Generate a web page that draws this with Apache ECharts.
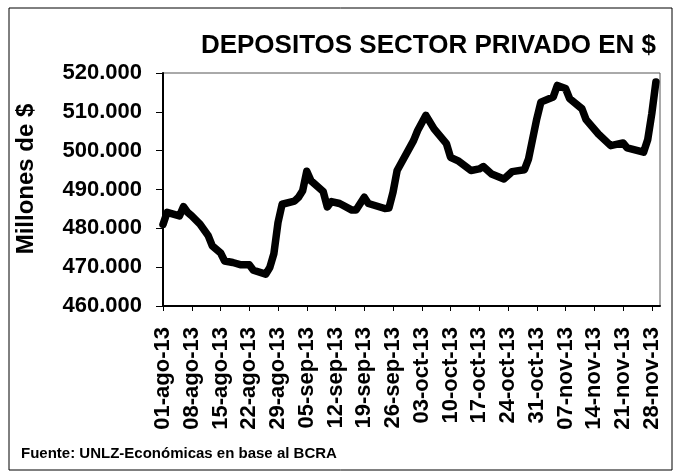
<!DOCTYPE html>
<html>
<head>
<meta charset="utf-8">
<script src="https://cdn.jsdelivr.net/npm/echarts@6/dist/echarts.min.js"></script>
<style>
  html, body { margin: 0; padding: 0; background: #fff; }
  #chart { width: 673px; height: 476px; }
</style>
</head>
<body>
<div id="chart"></div>
<script>
// daily categories 01-ago-13 .. 30-nov-13
const months = [["ago", 31], ["sep", 30], ["oct", 31], ["nov", 30]];
const days = [];
months.forEach(([m, n]) => {
    for (let d = 1; d <= n; d++) {
        days.push((d < 10 ? "0" : "") + d + "-" + m + "-13");
    }
});

// points (millones de $)
const pointDates = [
    "01-ago-13", "02-ago-13", "05-ago-13", "06-ago-13", "07-ago-13", "08-ago-13",
    "10-ago-13", "12-ago-13", "13-ago-13", "15-ago-13", "16-ago-13", "18-ago-13",
    "20-ago-13", "22-ago-13", "23-ago-13", "26-ago-13", "27-ago-13", "28-ago-13",
    "29-ago-13", "30-ago-13", "02-sep-13", "03-sep-13", "04-sep-13", "05-sep-13",
    "06-sep-13", "09-sep-13", "10-sep-13", "11-sep-13", "13-sep-13", "16-sep-13",
    "17-sep-13", "19-sep-13", "20-sep-13", "24-sep-13", "25-sep-13", "26-sep-13",
    "27-sep-13", "01-oct-13", "02-oct-13", "04-oct-13", "06-oct-13", "09-oct-13",
    "10-oct-13", "12-oct-13", "15-oct-13", "17-oct-13", "18-oct-13", "20-oct-13",
    "23-oct-13", "25-oct-13", "28-oct-13", "29-oct-13", "31-oct-13", "01-nov-13",
    "04-nov-13", "05-nov-13", "07-nov-13", "08-nov-13", "11-nov-13", "12-nov-13",
    "15-nov-13", "18-nov-13", "21-nov-13", "22-nov-13", "26-nov-13", "27-nov-13",
    "28-nov-13", "29-nov-13"
];
const pointValues = [
    481000, 484100, 483200, 485600, 484100, 483200,
    481100, 478100, 475500, 473700, 471600, 471200,
    470600, 470600, 469200, 468200, 469900, 473500,
    481500, 486200, 487000, 488000, 489700, 494700,
    492300, 489500, 485500, 486900, 486400, 484700,
    484700, 488000, 486400, 485100, 485200, 489300,
    494900, 502600, 505200, 509100, 505600, 501800,
    498300, 497300, 494900, 495300, 495900, 494000,
    492700, 494600, 495100, 497900, 508200, 512500,
    513800, 516800, 516000, 513400, 510800, 508000,
    504300, 501300, 502000, 500700, 499600, 502800,
    509500, 517700
];

const seriesData = days.map(d => {
    const i = pointDates.indexOf(d);
    return i >= 0 ? pointValues[i] : null;
});

const font = "Liberation Sans";
const chart = echarts.init(document.getElementById("chart"));
chart.setOption({
    animation: false,
    title: {
        text: "DEPOSITOS SECTOR PRIVADO EN $",
        right: 12,
        top: 28,
        textStyle: { fontFamily: font, fontWeight: "bold", fontSize: 26, color: "#000" }
    },
    grid: {
        left: 163, right: 13, top: 73, bottom: 170,
        show: true, borderColor: "#555", borderWidth: 1
    },
    xAxis: {
        type: "category",
        data: days,
        boundaryGap: false,
        axisLine: { lineStyle: { color: "#000", width: 2 } },
        axisTick: { interval: 6, length: 5, lineStyle: { color: "#000", width: 1 } },
        axisLabel: {
            interval: 6, rotate: 90, margin: 21,
            padding: [8, 0, 0, 0],
            fontFamily: font, fontWeight: "bold", fontSize: 22, color: "#000"
        },
        splitLine: { show: false }
    },
    yAxis: {
        type: "value",
        min: 460000, max: 520000, interval: 10000,
        axisLine: { show: true, lineStyle: { color: "#000", width: 2 } },
        axisTick: { show: true, inside: false, length: 7, lineStyle: { color: "#000", width: 1 } },
        axisLabel: {
            margin: 21,
            fontFamily: font, fontWeight: "bold", fontSize: 22, color: "#000",
            formatter: v => String(v).replace(/\B(?=(\d{3})+(?!\d))/g, ".")
        },
        splitLine: { show: false }
    },
    series: [{
        type: "line",
        data: seriesData,
        connectNulls: true,
        showSymbol: false,
        symbol: "none",
        lineStyle: { color: "#000", width: 7.5, join: "round", cap: "round" }
    }],
    graphic: [
        {
            type: "rect",
            shape: { x: 9, y: 8, width: 663, height: 462 },
            style: { fill: null, stroke: "#000", lineWidth: 1 },
            silent: true
        },
        {
            type: "text",
            x: 26,
            y: 179,
            rotation: Math.PI / 2,
            style: {
                text: "Millones de $",
                x: 0, y: 0, align: "center", verticalAlign: "middle",
                fontFamily: font, fontWeight: "bold", fontSize: 24, fill: "#000"
            }
        },
        {
            type: "text",
            left: 21,
            top: 446,
            style: {
                text: "Fuente: UNLZ-Económicas en base al BCRA",
                fontFamily: font, fontWeight: "bold", fontSize: 15, fill: "#000"
            }
        }
    ]
});
</script>
</body>
</html>
